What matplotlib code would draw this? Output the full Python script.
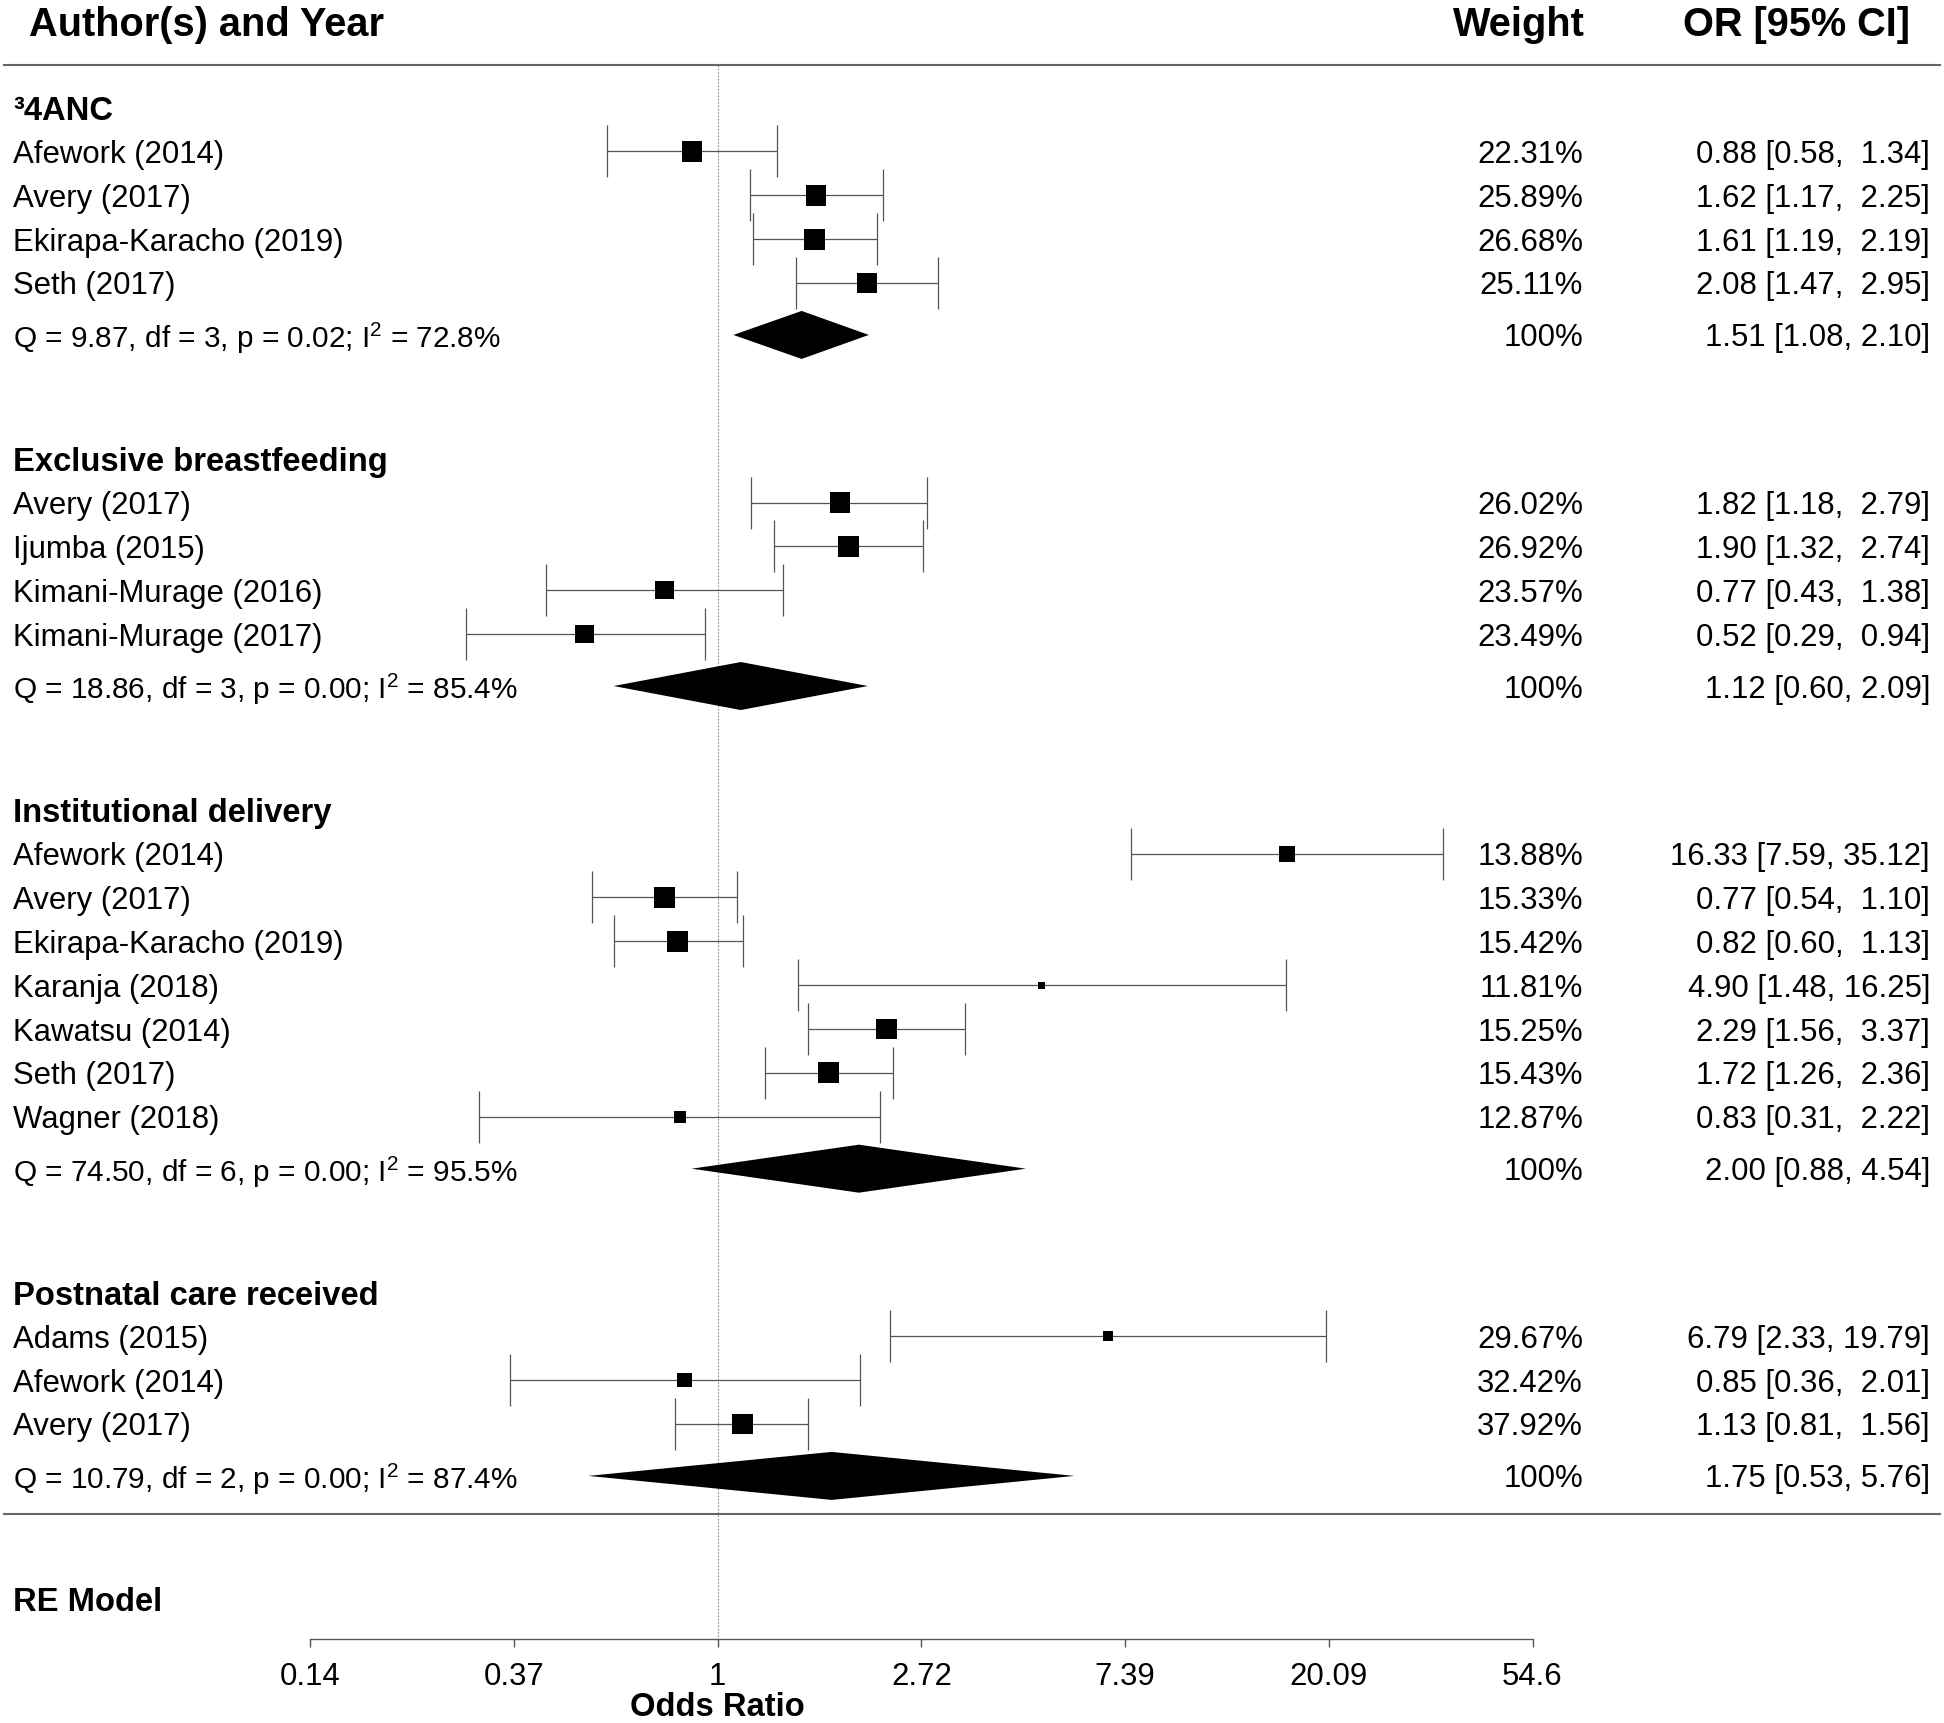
import numpy as np
import matplotlib
matplotlib.use('Agg')
import matplotlib.pyplot as plt
from matplotlib.transforms import blended_transform_factory

plt.rcParams['font.family'] = ['Liberation Sans', 'DejaVu Sans']
plt.rcParams['mathtext.fontset'] = 'custom'
plt.rcParams['mathtext.rm'] = 'Liberation Sans'

# data
groups = ['³4ANC', 'Exclusive breastfeeding', 'Institutional delivery', 'Postnatal care received']
studies = [
    ['Afework (2014)', 'Avery (2017)', 'Ekirapa-Karacho (2019)', 'Seth (2017)'],
    ['Avery (2017)', 'Ijumba (2015)', 'Kimani-Murage (2016)', 'Kimani-Murage (2017)'],
    ['Afework (2014)', 'Avery (2017)', 'Ekirapa-Karacho (2019)', 'Karanja (2018)',
     'Kawatsu (2014)', 'Seth (2017)', 'Wagner (2018)'],
    ['Adams (2015)', 'Afework (2014)', 'Avery (2017)'],
]
odds = [
    [0.88, 1.62, 1.61, 2.08],
    [1.82, 1.90, 0.77, 0.52],
    [16.33, 0.77, 0.82, 4.90, 2.29, 1.72, 0.83],
    [6.79, 0.85, 1.13],
]
ci_low = [
    [0.58, 1.17, 1.19, 1.47],
    [1.18, 1.32, 0.43, 0.29],
    [7.59, 0.54, 0.60, 1.48, 1.56, 1.26, 0.31],
    [2.33, 0.36, 0.81],
]
ci_high = [
    [1.34, 2.25, 2.19, 2.95],
    [2.79, 2.74, 1.38, 0.94],
    [35.12, 1.10, 1.13, 16.25, 3.37, 2.36, 2.22],
    [19.79, 2.01, 1.56],
]
weights = [
    [22.31, 25.89, 26.68, 25.11],
    [26.02, 26.92, 23.57, 23.49],
    [13.88, 15.33, 15.42, 11.81, 15.25, 15.43, 12.87],
    [29.67, 32.42, 37.92],
]
pooled_or = [1.51, 1.12, 2.00, 1.75]
pooled_low = [1.08, 0.60, 0.88, 0.53]
pooled_high = [2.10, 2.09, 4.54, 5.76]
q_stat = [9.87, 18.86, 74.50, 10.79]
q_df = [3, 3, 6, 2]
q_p = [0.02, 0.00, 0.00, 0.00]
i2 = [72.8, 85.4, 95.5, 87.4]
tick_labels = ['0.14', '0.37', '1', '2.72', '7.39', '20.09', '54.6']

W, H, DPI = 1944, 1723, 100
ROW = 43.64  # px per row
fig = plt.figure(figsize=(W / DPI, H / DPI), dpi=DPI)
ax = fig.add_axes([0, 0, 1, 1])
ax.set_xscale('log')
ax.set_xlim(np.exp(-717.7 / 203.7), np.exp((W - 717.7) / 203.7))
ax.set_ylim(H / ROW, 0)

tr = blended_transform_factory(fig.transFigure, ax.transData)
def fx(px):
    return px / W

x_lab = fx(13)
x_wt = fx(1583)
x_or = fx(1930)
fs = 22.4
fsb = 23.6
fsq = 21.4
dy = 0.08  # text sits a touch lower than the marks

# marker size from sampling variance (bigger square = more precise)
all_var = []
for lo, hi in zip(ci_low, ci_high):
    for a, b in zip(lo, hi):
        all_var.append(((np.log(b) - np.log(a)) / 3.92) ** 2)
vmin, vmax = min(all_var), max(all_var)

# header
ax.text(fx(29), 0.5 + dy, 'Author(s) and Year', transform=tr, ha='left', va='center',
        fontsize=28.6, fontweight='bold')
ax.text(fx(1585), 0.5 + dy, 'Weight', transform=tr, ha='right', va='center',
        fontsize=28.6, fontweight='bold')
ax.text(fx(1910), 0.5 + dy, 'OR [95% CI]', transform=tr, ha='right', va='center',
        fontsize=28.6, fontweight='bold')
top_line = 1.48
ax.axhline(top_line, xmin=fx(4), xmax=fx(1940), color='#666666', lw=1.5)

y = 2.47
for g in range(len(groups)):
    ax.text(x_lab, y + dy, groups[g], transform=tr, ha='left', va='center',
            fontsize=fsb, fontweight='bold')
    n = len(studies[g])
    ys = y + 1 + np.arange(n) * 1.005
    est = np.array(odds[g])
    lo = np.array(ci_low[g])
    hi = np.array(ci_high[g])
    ax.errorbar(est, ys, xerr=[est - lo, hi - est], fmt='none', ecolor='#555555',
                elinewidth=0.9, capsize=19, capthick=0.9, zorder=2)
    var = ((np.log(hi) - np.log(lo)) / 3.92) ** 2
    size_px = 7 + 14 * (vmax - var) / (vmax - vmin)
    ax.scatter(est, ys, marker='s', s=(size_px * 72 / DPI) ** 2, color='black',
               linewidths=0, zorder=3)
    for i in range(n):
        ax.text(x_lab, ys[i] + dy, studies[g][i], transform=tr, ha='left', va='center',
                fontsize=fs)
        ax.text(x_wt, ys[i] + dy, f'{weights[g][i]:.2f}%', transform=tr, ha='right',
                va='center', fontsize=fs)
        ax.text(x_or, ys[i] + dy,
                f'{odds[g][i]:.2f} [{ci_low[g][i]:.2f}, {ci_high[g][i]:5.2f}]',
                transform=tr, ha='right', va='center', fontsize=fs)
    ysum = ys[-1] + 1.19
    ax.fill([pooled_low[g], pooled_or[g], pooled_high[g], pooled_or[g]],
            [ysum, ysum - 0.55, ysum, ysum + 0.55], color='black', lw=0, zorder=3)
    ax.text(x_lab, ysum + dy,
            f'Q = {q_stat[g]:.2f}, df = {q_df[g]}, p = {q_p[g]:.2f}; '
            + r'$\mathregular{I^2}$' + f' = {i2[g]:.1f}%',
            transform=tr, ha='left', va='center', fontsize=fsq)
    ax.text(x_wt, ysum + dy, '100%', transform=tr, ha='right', va='center', fontsize=fs)
    ax.text(x_or, ysum + dy,
            f'{pooled_or[g]:.2f} [{pooled_low[g]:.2f}, {pooled_high[g]:.2f}]',
            transform=tr, ha='right', va='center', fontsize=fs)
    last_sum = ysum
    y = ysum + 2.84

bottom_line = last_sum + 0.88
ax.axhline(bottom_line, xmin=fx(4), xmax=fx(1940), color='#666666', lw=1.5)
ax.text(x_lab, last_sum + 2.83 + dy, 'RE Model', transform=tr, ha='left', va='center',
        fontsize=fsb, fontweight='bold')
axis_y = last_sum + 3.74

ax.vlines(1, top_line, axis_y, colors='#888888', lw=0.8, linestyles=(0, (1.5, 1.5)), zorder=1)

# x axis
for s in ['top', 'left', 'right']:
    ax.spines[s].set_visible(False)
ax.spines['bottom'].set_position(('data', axis_y))
ax.spines['bottom'].set_bounds(np.exp(-2), np.exp(4))
ax.spines['bottom'].set_color('#555555')
ax.spines['bottom'].set_linewidth(1.0)
ticks = np.exp(np.arange(-2, 5))
ax.xaxis.set_major_locator(matplotlib.ticker.FixedLocator(ticks))
ax.xaxis.set_minor_locator(matplotlib.ticker.NullLocator())
ax.set_xticklabels(tick_labels)
ax.tick_params(axis='x', direction='out', length=6, width=1.0, color='#555555',
               labelsize=fs, pad=10.5)
ax.set_yticks([])
ax.text(1, axis_y + 1.56, 'Odds Ratio', ha='center', va='center', fontsize=fsb,
        fontweight='bold')

fig.savefig('out.png', dpi=DPI)
